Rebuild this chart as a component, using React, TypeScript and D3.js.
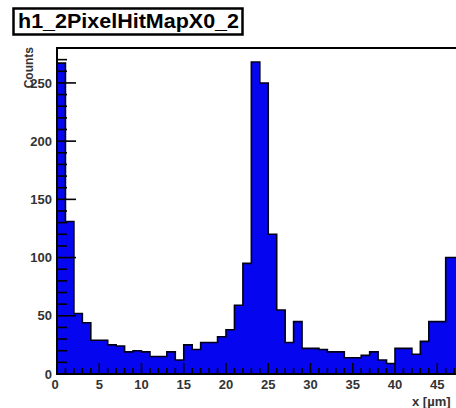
import React from "react";
import * as d3 from "d3";

const TITLE = "h1_2PixelHitMapX0_2";
const X_TITLE = "x [µm]";
const Y_TITLE = "Counts";
const BIN_COUNTS = [
  267, 131, 52, 44, 29, 29, 25, 24, 19, 20,
  19, 15, 15, 19, 12, 25, 21, 27, 27, 32,
  38, 59, 95, 268, 250, 120, 55, 27, 45, 22,
  22, 21, 19, 19, 14, 14, 16, 19, 12, 9,
  22, 22, 17, 28, 45, 45, 100, 100,
];
const X_MIN = 0;
const X_MAX = 48;
const Y_MAX = 280;
const X_TICKS = [0, 5, 10, 15, 20, 25, 30, 35, 40, 45];
const Y_TICKS = [0, 50, 100, 150, 200, 250];

export default function App() {
  const W = 456;
  const H = 408;
  const left = 57;
  const right = 462.6;
  const top = 48;
  const bottom = 374;

  const x = d3.scaleLinear().domain([X_MIN, X_MAX]).range([left, right]);
  const y = d3.scaleLinear().domain([0, Y_MAX]).range([bottom, top]);

  const pts: [number, number][] = BIN_COUNTS.map((v, i) => [X_MIN + i, v]);
  pts.push([X_MIN + BIN_COUNTS.length, BIN_COUNTS[BIN_COUNTS.length - 1]]);

  const area = d3
    .area<[number, number]>()
    .x((d) => x(d[0]))
    .y0(y(0))
    .y1((d) => y(d[1]))
    .curve(d3.curveStepAfter);

  const line = d3
    .line<[number, number]>()
    .x((d) => x(d[0]))
    .y((d) => y(d[1]))
    .curve(d3.curveStepAfter);

  const outline =
    `M${x(X_MIN)},${y(0)}L${x(X_MIN)},${y(BIN_COUNTS[0])}` +
    (line(pts) || "").replace(/^M/, "L") +
    `L${x(X_MIN + BIN_COUNTS.length)},${y(0)}`;

  const yMinor = d3.range(0, Y_MAX + 1, 10);
  const xMinor = d3.range(X_MIN, X_MAX + 1, 1);

  const font = "'Liberation Sans', Arial, Helvetica, sans-serif";

  return (
    <svg
      width={W}
      height={H}
      style={{ position: "absolute", left: 0, top: 0, background: "#fff" }}
    >
      <rect x={0} y={0} width={W} height={H} fill="#ffffff" />
      {/* histogram */}
      <path d={area(pts) || ""} fill="#0505f0" />
      <path d={outline} fill="none" stroke="#000018" strokeWidth={1.6} />
      {/* frame */}
      <rect
        x={left}
        y={top}
        width={right - left}
        height={bottom - top}
        fill="none"
        stroke="#000"
        strokeWidth={2}
      />
      {/* y ticks */}
      {yMinor.map((v) => (
        <line
          key={"ym" + v}
          x1={left}
          x2={left + (v % 50 === 0 ? 19 : 10)}
          y1={y(v)}
          y2={y(v)}
          stroke="#000"
          strokeWidth={1.6}
        />
      ))}
      {/* x ticks */}
      {xMinor.map((v) => (
        <line
          key={"xm" + v}
          x1={x(v)}
          x2={x(v)}
          y1={bottom}
          y2={bottom - (v % 5 === 0 ? 11 : 6)}
          stroke="#000"
          strokeWidth={1.6}
        />
      ))}
      {/* y labels */}
      {Y_TICKS.map((v) => (
        <text
          key={"yl" + v}
          x={52}
          y={y(v)}
          dy="0.36em"
          textAnchor="end"
          fontFamily={font}
          fontWeight="bold"
          fontSize={13}
          fill="#333"
        >
          {v}
        </text>
      ))}
      {/* x labels */}
      {X_TICKS.map((v) => (
        <text
          key={"xl" + v}
          x={x(v) - (v === 0 ? 2 : 0)}
          y={389}
          textAnchor="middle"
          fontFamily={font}
          fontWeight="bold"
          fontSize={13}
          fill="#333"
        >
          {v}
        </text>
      ))}
      {/* axis titles */}
      <text
        x={412}
        y={406}
        textAnchor="start"
        fontFamily={font}
        fontWeight="bold"
        fontSize={13}
        fill="#333"
      >
        {X_TITLE}
      </text>
      <text
        transform="translate(33,47) rotate(-90)"
        textAnchor="end"
        fontFamily={font}
        fontWeight="bold"
        fontSize={12}
        fill="#333"
      >
        {Y_TITLE}
      </text>
      {/* title box */}
      <rect x={13.5} y={8.5} width={229} height={26} fill="#fff" stroke="#000" strokeWidth={2.5} />
      <text
        x={18}
        y={28}
        fontFamily={font}
        fontWeight="bold"
        fontSize={20}
        textLength={221}
        lengthAdjust="spacingAndGlyphs"
        fill="#000"
      >
        {TITLE}
      </text>
    </svg>
  );
}
